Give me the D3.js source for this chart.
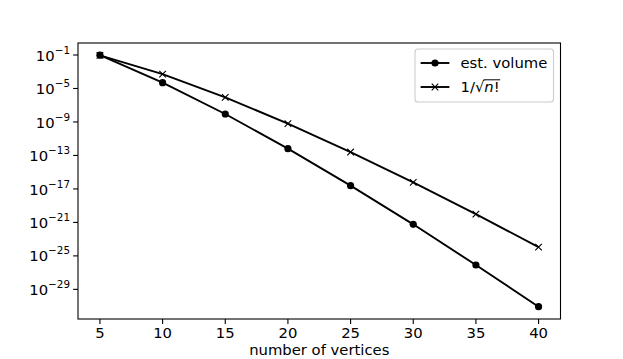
<!DOCTYPE html>
<html>
<head>
<meta charset="utf-8">
<script src="https://cdn.jsdelivr.net/npm/d3@7"></script>
<style>
  body { margin: 0; background: #fff; }
  svg { display: block; font-family: 'DejaVu Sans', sans-serif; }
</style>
</head>
<body>
<svg id="chart" width="623" height="359"></svg>
<script>
// values
const vertices = [5, 10, 15, 20, 25, 30, 35, 40];
const estVolume = [9.5e-2, 4.9e-5, 8.9e-9, 6.5e-13, 2.45e-17, 5.9e-22, 8.1e-27, 8.5e-32];
const invSqrtFact = [9.13e-2, 5.25e-4, 8.74e-7, 6.41e-10, 2.54e-13, 6.14e-17, 9.84e-21, 1.11e-24];
const xTicks = [5, 10, 15, 20, 25, 30, 35, 40];
const yTickExp = [-1, -5, -9, -13, -17, -21, -25, -29];

const svg = d3.select('#chart');
const margin = { left: 78, right: 560.5, top: 43, bottom: 319 };
const fs = 14.8;

const x = d3.scaleLinear().domain([3.25, 41.75]).range([margin.left, margin.right]);
const y = d3.scaleLog().domain([Math.pow(10, 0.434), Math.pow(10, -32.54)]).range([margin.top, margin.bottom]);

// x axis ticks
const gx = svg.append('g');
xTicks.forEach(t => {
  gx.append('line')
    .attr('x1', x(t)).attr('x2', x(t))
    .attr('y1', margin.bottom).attr('y2', margin.bottom + 4.9)
    .attr('stroke', '#000').attr('stroke-width', 1.1);
  gx.append('text')
    .attr('x', x(t)).attr('y', 338)
    .attr('text-anchor', 'middle')
    .attr('font-size', fs)
    .text(t);
});

// y axis ticks
const gy = svg.append('g');
yTickExp.forEach(e => {
  const yy = y(Math.pow(10, e));
  gy.append('line')
    .attr('x1', margin.left - 4.9).attr('x2', margin.left)
    .attr('y1', yy).attr('y2', yy)
    .attr('stroke', '#000').attr('stroke-width', 1.1);
  const t = gy.append('text')
    .attr('x', 70).attr('y', yy + 5.6)
    .attr('text-anchor', 'end')
    .attr('font-size', fs);
  t.append('tspan').text('10');
  t.append('tspan').attr('dy', -7).attr('font-size', 10.4).text('\u2212' + Math.abs(e));
});

svg.append('text')
  .attr('x', (margin.left + margin.right) / 2).attr('y', 355)
  .attr('text-anchor', 'middle')
  .attr('font-size', fs)
  .text('number of vertices');

// series
const line = d3.line().x((d, i) => x(vertices[i])).y(d => y(d));

const plot = svg.append('g');
plot.append('path').datum(estVolume)
  .attr('d', line).attr('fill', 'none')
  .attr('stroke', '#000').attr('stroke-width', 1.9);
plot.append('path').datum(invSqrtFact)
  .attr('d', line).attr('fill', 'none')
  .attr('stroke', '#000').attr('stroke-width', 1.9);

const drawDot = (g, cx, cy) => g.append('circle')
  .attr('cx', cx).attr('cy', cy).attr('r', 3.6).attr('fill', '#000');
const drawX = (g, cx, cy) => g.append('path')
  .attr('d', `M${cx - 3.3},${cy - 3.3}L${cx + 3.3},${cy + 3.3}M${cx - 3.3},${cy + 3.3}L${cx + 3.3},${cy - 3.3}`)
  .attr('stroke', '#000').attr('stroke-width', 1.1).attr('fill', 'none');

estVolume.forEach((d, i) => drawDot(plot, x(vertices[i]), y(d)));
invSqrtFact.forEach((d, i) => drawX(plot, x(vertices[i]), y(d)));

// frame
svg.append('rect')
  .attr('x', margin.left).attr('y', margin.top)
  .attr('width', margin.right - margin.left).attr('height', margin.bottom - margin.top)
  .attr('fill', 'none').attr('stroke', '#000').attr('stroke-width', 1.1);

// legend
const lg = svg.append('g');
lg.append('rect')
  .attr('x', 415).attr('y', 49).attr('width', 138.5).attr('height', 53)
  .attr('rx', 3).attr('fill', '#fff').attr('fill-opacity', 0.8)
  .attr('stroke', '#cccccc').attr('stroke-width', 1.1);

const rows = [63, 87];
rows.forEach((ry, i) => {
  lg.append('line')
    .attr('x1', 420.6).attr('x2', 449.4).attr('y1', ry).attr('y2', ry)
    .attr('stroke', '#000').attr('stroke-width', 1.9);
  if (i === 0) drawDot(lg, 435, ry); else drawX(lg, 435, ry);
});

lg.append('text')
  .attr('x', 460.5).attr('y', rows[0] + 5.2)
  .attr('font-size', fs)
  .text('est. volume');

const lbl = lg.append('text')
  .attr('x', 460.5).attr('y', rows[1] + 5.2)
  .attr('font-size', fs);
lbl.append('tspan').text('1/\u221A');
lbl.append('tspan').attr('font-style', 'italic').text('n');
lbl.append('tspan').text('!');

// overbar of the radical
const node = lbl.node();
const rad = node.getExtentOfChar(2);
const box = node.getBBox();
lg.append('line')
  .attr('x1', rad.x + rad.width - 0.8).attr('x2', box.x + box.width + 0.5)
  .attr('y1', rad.y + 1.6).attr('y2', rad.y + 1.6)
  .attr('stroke', '#000').attr('stroke-width', 1);
</script>
</body>
</html>
